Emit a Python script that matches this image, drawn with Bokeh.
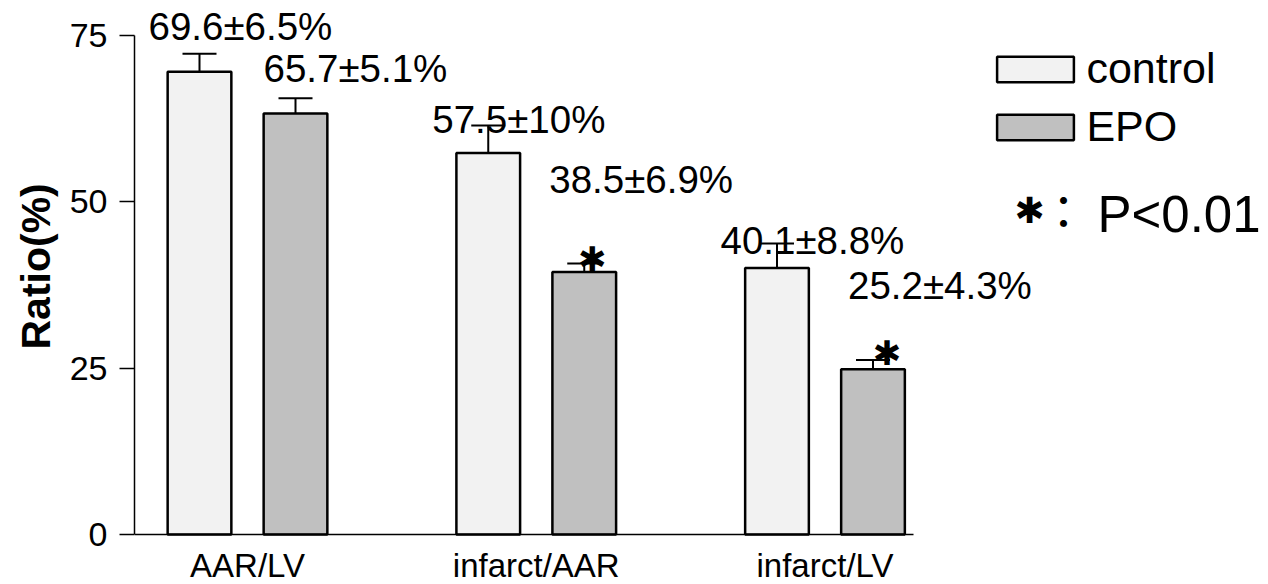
from bokeh.plotting import figure
from bokeh.models import (ColumnDataSource, FixedTicker, Whisker, TeeHead, Legend,
                          LegendItem, Label, Range1d, Title)
from bokeh.core.properties import value
from bokeh.embed import file_html
from bokeh.resources import INLINE

# ---------------- data ----------------
categories = ["AAR/LV", "infarct/AAR", "infarct/LV"]
groups = ["control", "EPO"]
control_mean = [69.5, 57.3, 40.0]
control_err = [2.7, 4.1, 3.7]
epo_mean = [63.2, 39.4, 24.8]
epo_err = [2.3, 1.3, 1.4]
control_labels = ["69.6±6.5%", "57.5±10%", "40.1±8.8%"]
epo_labels = ["65.7±5.1%", "38.5±6.9%", "25.2±4.3%"]
epo_significant = [False, True, True]
y_ticks = [0, 25, 50, 75]
y_axis_label = "Ratio(%)"
p_note = "P<0.01"

# ---------------- layout ----------------
FONT = "Liberation Sans"
W, H = 1268, 584
FL = 134                         # frame left border
FW = W - FL
UNIT = 288.75                    # px per category
X0 = -113 / UNIT
PPU_Y = 6.66                     # px per y unit
Y_END = 534 / PPU_Y
Y_START = -(H - 534) / PPU_Y
OFF = 48 / UNIT                  # bar offset from group centre
BW = 63.7 / UNIT                 # bar width
BASE_FIX = 0.35                  # baseline correction (em)


def img_to_data(ix, iy):
    """convert a pixel position of the page to data coordinates"""
    return X0 + (ix - FL) / UNIT, (534 - iy) / PPU_Y


ctrl_x = [i - OFF for i in range(len(categories))]
epo_x = [i + OFF for i in range(len(categories))]

ctrl_src = ColumnDataSource(dict(x=ctrl_x, top=control_mean,
                                 upper=[m + e for m, e in zip(control_mean, control_err)],
                                 label=control_labels))
epo_src = ColumnDataSource(dict(x=epo_x, top=epo_mean,
                                upper=[m + e for m, e in zip(epo_mean, epo_err)],
                                label=epo_labels))

p = figure(width=W, height=H, output_backend="svg", toolbar_location=None,
           x_range=Range1d(X0, X0 + FW / UNIT), y_range=Range1d(Y_START, Y_END),
           min_border_left=FL, min_border_right=0, min_border_top=0, min_border_bottom=0)
p.outline_line_color = None
p.xgrid.visible = False
p.ygrid.visible = False
p.background_fill_color = "white"
p.border_fill_color = "white"

r_ctrl = p.vbar(x="x", top="top", width=BW, bottom=0, source=ctrl_src,
                fill_color="#f2f2f2", line_color="black", line_width=2.5)
r_epo = p.vbar(x="x", top="top", width=BW, bottom=0, source=epo_src,
               fill_color="#c0c0c0", line_color="black", line_width=2.5)

for src in (ctrl_src, epo_src):
    w = Whisker(source=src, base="x", lower="top", upper="upper", dimension="height",
                line_color="black", line_width=2,
                upper_head=TeeHead(size=34, line_color="black", line_width=2),
                lower_head=None, level="underlay")
    p.add_layout(w)

# value labels (positions relative to the error-bar tip, in px)
LBL_SIZE = 38.5
fix = BASE_FIX * LBL_SIZE
ctrl_src.data["dx"] = [-51, -56, -56.5]
ctrl_src.data["dy"] = [d - fix for d in (-14, 7, 11)]
epo_src.data["dx"] = [-32, -35, -25]
epo_src.data["dy"] = [d - fix for d in (-16, -70, -61)]
for src in (ctrl_src, epo_src):
    p.text(x="x", y="upper", text="label", source=src, x_offset="dx", y_offset="dy",
           text_font=value(FONT), text_font_size=f"{LBL_SIZE}px", text_color="black",
           text_align="left", text_baseline="alphabetic")

# significance stars
star_x = [x for x, s in zip(epo_x, epo_significant) if s]
star_y = [m + e for m, e, s in zip(epo_mean, epo_err, epo_significant) if s]
p.text(x=star_x, y=star_y, text=["✱"] * len(star_x), x_offset=[8, 14], y_offset=[-4, -7.5],
       text_font=value("DejaVu Sans"), text_font_size="34px", text_color="black",
       text_align="center", text_baseline="middle")

# axes
yax = p.yaxis[0]
yax.ticker = FixedTicker(ticks=y_ticks)
yax.bounds = (0, 75)
yax.axis_line_width = 1.5
yax.major_tick_line_width = 1.5
yax.major_tick_out = 15
yax.major_tick_in = 0
yax.minor_tick_out = 0
yax.minor_tick_in = 0
yax.major_label_standoff = 12
yax.major_label_text_font = FONT
yax.major_label_text_font_size = "34px"
yax.major_label_text_color = "black"

xax = p.xaxis[0]
xax.fixed_location = 0
xax.ticker = FixedTicker(ticks=list(range(len(categories))))
xax.major_label_overrides = {i: c for i, c in enumerate(categories)}
xax.bounds = (X0, 2.3065)
xax.axis_line_width = 1.5
xax.major_tick_out = 0
xax.major_tick_in = 0
xax.minor_tick_out = 0
xax.minor_tick_in = 0
xax.major_label_standoff = 12
xax.major_label_text_font = FONT
xax.major_label_text_font_size = "33px"
xax.major_label_text_color = "black"

# y axis title
p.add_layout(Title(text=y_axis_label, align="left", offset=H - 349, standoff=16,
                   text_font=FONT, text_font_size="41px", text_font_style="bold",
                   text_color="black"), "left")

# legend
legend = Legend(items=[LegendItem(label=groups[0], renderers=[r_ctrl]),
                       LegendItem(label=groups[1], renderers=[r_epo])],
                location=(987.4 - FL, H - 151), orientation="vertical",
                glyph_width=96, glyph_height=32, label_height=32, spacing=9,
                padding=0, margin=0, label_standoff=3,
                label_text_font=FONT, label_text_font_size="43px",
                label_text_color="black",
                border_line_color=None, background_fill_alpha=0)
p.add_layout(legend)

# significance note
sx, sy = img_to_data(1029, 210)
p.add_layout(Label(x=sx, y=sy, text="✱", text_font="DejaVu Sans", text_font_size="36px",
                   text_align="center", text_baseline="middle", text_color="black"))
cx, cy = img_to_data(1040, 225 - BASE_FIX * 46)
p.add_layout(Label(x=cx, y=cy, text="：", text_font="Noto Sans CJK JP", text_font_size="46px",
                   text_align="left", text_baseline="alphabetic", text_color="black"))
px_, py_ = img_to_data(1097, 232 - BASE_FIX * 51)
p.add_layout(Label(x=px_, y=py_, text=p_note, text_font=FONT, text_font_size="51px",
                   text_align="left", text_baseline="alphabetic", text_color="black"))

open("out.html", "w").write(file_html(p, INLINE))
